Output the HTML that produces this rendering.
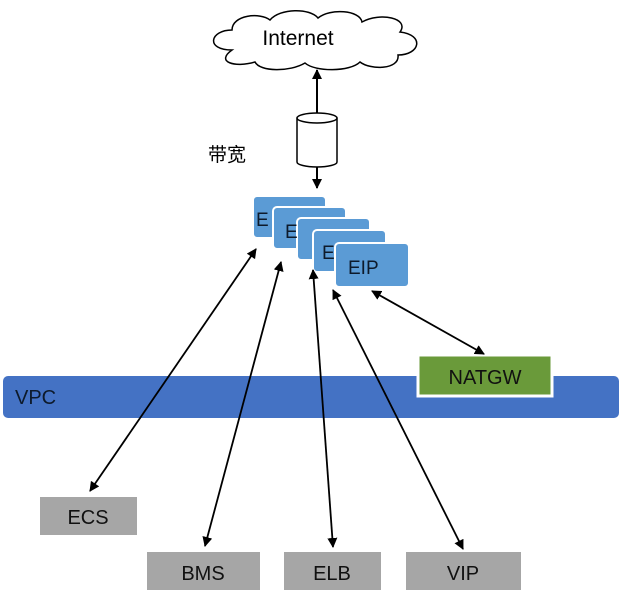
<!DOCTYPE html><html><head><meta charset="utf-8"><style>body{margin:0;background:#fff}svg{display:block}text{font-family:"Liberation Sans","Noto Sans CJK SC",sans-serif}</style></head><body>
<svg width="623" height="608" viewBox="0 0 623 608" xmlns="http://www.w3.org/2000/svg">
<defs><marker id="a" markerWidth="10" markerHeight="10" refX="9" refY="5" orient="auto-start-reverse" markerUnits="userSpaceOnUse"><path d="M0,0 L10,5 L0,10 z" fill="#000"/></marker></defs>
<path d="M232,50 C205,50 210,30 232,30 C232,15 260,12 270,20 C280,8 310,8 318,18 C330,8 360,10 362,22 C380,12 410,18 400,32 C425,35 420,55 398,55 C400,70 370,70 360,62 C350,72 315,72 305,63 C290,72 260,72 255,62 C235,68 215,62 232,50 z" fill="#fff" stroke="#000" stroke-width="1.5"/>
<text x="298" y="45" font-size="21" text-anchor="middle">Internet</text>
<line x1="317" y1="113" x2="317" y2="70" stroke="#000" stroke-width="2" marker-end="url(#a)"/>
<line x1="317" y1="166" x2="317" y2="188" stroke="#000" stroke-width="2" marker-end="url(#a)"/>
<path d="M297,118 L297,162 A20,5 0 0 0 337,162 L337,118" fill="#fff" stroke="#000" stroke-width="1.5"/>
<ellipse cx="317" cy="118" rx="20" ry="5" fill="#fff" stroke="#000" stroke-width="1.5"/>
<text x="208" y="161" font-size="19">带宽</text>
<g fill="#5b9bd5" stroke="#fff" stroke-width="2">
<rect x="253" y="196" width="73" height="42" rx="4"/>
<rect x="273" y="207" width="73" height="42" rx="4"/>
<rect x="297" y="218" width="73" height="42" rx="4"/>
<rect x="313" y="230" width="73" height="42" rx="4"/>
<rect x="335" y="243" width="74" height="44" rx="4"/>
</g>
<g font-size="19" fill="#0d1a2b"><text x="256" y="226">E</text><text x="285" y="238">E</text><text x="322" y="259">E</text><text x="348" y="274">EIP</text></g>
<rect x="3" y="376" width="616" height="42" rx="5" fill="#4472c4"/>
<text x="15" y="404" font-size="20" fill="#0d1a2b">VPC</text>
<rect x="418" y="355" width="134" height="41" fill="#6a9a3a" stroke="#fff" stroke-width="3"/>
<text x="485" y="384" font-size="20" text-anchor="middle" fill="#111">NATGW</text>
<g fill="#a6a6a6"><rect x="40" y="497" width="97" height="38"/><rect x="147" y="552" width="113" height="38"/><rect x="284" y="552" width="97" height="38"/><rect x="406" y="552" width="115" height="38"/></g>
<g font-size="20" text-anchor="middle" fill="#111"><text x="88" y="524">ECS</text><text x="203" y="580">BMS</text><text x="332" y="580">ELB</text><text x="463" y="580">VIP</text></g>
<g stroke="#000" stroke-width="1.8" marker-start="url(#a)" marker-end="url(#a)">
<line x1="256" y1="249" x2="90" y2="491"/>
<line x1="281" y1="262" x2="205" y2="546"/>
<line x1="313" y1="270" x2="333" y2="547"/>
<line x1="333" y1="290" x2="463" y2="549"/>
<line x1="372" y1="291" x2="484" y2="354"/>
</g>
</svg></body></html>
